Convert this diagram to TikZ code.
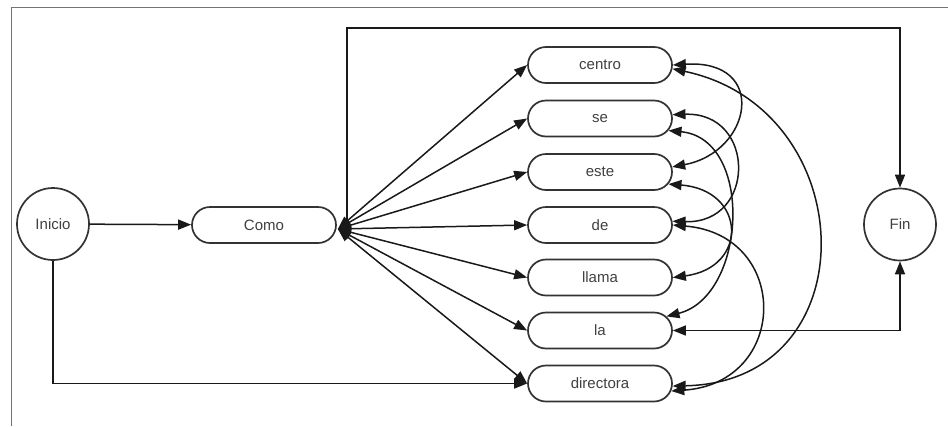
\documentclass[tikz,border=0pt]{standalone}
\usepackage{fontspec}
\setmainfont{Liberation Sans}
\usetikzlibrary{arrows.meta,shapes.misc}
\begin{document}
\begin{tikzpicture}[x=1pt,y=-1pt,
  label text/.style={text=black!75,font=\fontsize{15}{18}\selectfont},
  state/.style={circle,draw=black!80,line width=1.7pt,minimum size=72pt,inner sep=0pt,label text},
  word/.style={rounded rectangle,draw=black!80,line width=1.7pt,minimum width=144pt,minimum height=36pt,inner sep=0pt,label text},
  link/.style={line width=1.5pt,draw=black!90},
  tip/.style={-{Triangle[length=13pt,width=10pt]}},
  both/.style={{Triangle[length=13pt,width=10pt]}-{Triangle[length=13pt,width=10pt]}},
  frame/.style={draw=black!55,line width=1pt}]

\useasboundingbox (0,0) rectangle (948,426);
\draw[frame] (11,426) -- (11,7) -- (948,7);

% states and words
\node[state] (inicio) at (53,224) {Inicio};
\node[word]  (como)   at (264,225) {Como};
\node[word] (centro)    at (600,65)    {centro};
\node[word] (se)        at (600,118.5) {se};
\node[word] (este)      at (600,172)   {este};
\node[word] (de)        at (600,225)   {de};
\node[word] (llama)     at (600,277.5) {llama};
\node[word] (la)        at (600,330.5) {la};
\node[word] (directora) at (600,383.5) {directora};
\node[state] (fin) at (900,224.5) {Fin};

% fan out of "Como"
\coordinate (hub) at ([shift={(1pt,-4pt)}]como.east);
\coordinate (rise) at ([xshift=9pt]hub);
\foreach \w in {centro,se,este,de,llama,la,directora}
  \draw[link,both] (hub) -- (\w.west);

% straight connectors
\draw[link,tip] (inicio) -- (como);
\draw[link,tip] (rise) -- ++(0,-201) -| (fin.north);
\draw[link,tip] (inicio.south) |- (directora.west);
\draw[link,both] (fin.south) |- (la.east);

% arcs between the words
\draw[link,both] (centro.east) .. controls +(96,-6) and +(80,-15) .. (este.4);
\draw[link,both] (centro.-3) .. controls +(190,40) and +(198,-4) .. (directora.-2);
\draw[link,both] (se.3) .. controls +(84,-3) and +(84,3) .. (de.3);
\draw[link,both] (se.-10) .. controls +(86,8) and +(80,-20) .. (la.12);
\draw[link,both] (este.-10) .. controls +(78,6) and +(76,-10) .. (llama.east);
\draw[link,both] (de.east) .. controls +(118,10) and +(118,-8) .. (directora.-6);
\end{tikzpicture}
\end{document}
